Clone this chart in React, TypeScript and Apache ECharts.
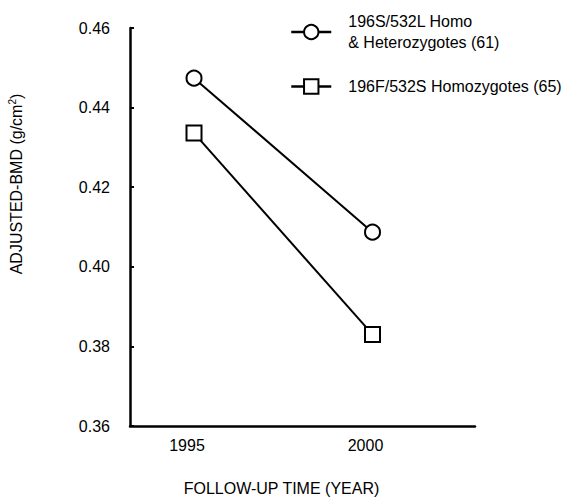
import React, { useEffect, useRef } from "react";
import * as echarts from "echarts";

const years = [1995, 2000];
const homoHetero = [0.4474, 0.4087];
const homozygotes = [0.4336, 0.383];
const seriesNames = ["196S/532L Homo\n& Heterozygotes (61)", "196F/532S Homozygotes (65)"];
const yMin = 0.36;
const yMax = 0.46;
const yStep = 0.02;
const xTickValues = [1995, 2000];
const xTitle = "FOLLOW-UP TIME (YEAR)";

const FONT = "Liberation Sans, Arial, Helvetica, sans-serif";

export default function App() {
  const ref = useRef<HTMLDivElement>(null);
  useEffect(() => {
    if (!ref.current) return;
    const chart = echarts.init(ref.current, null, { renderer: "svg" });
    const mk = (vals: number[]) => years.map((y, i) => [y, vals[i]]);
    const common = {
      type: "line",
      lineStyle: { color: "#000", width: 2 },
      itemStyle: { color: "#fff", borderColor: "#000", borderWidth: 2 },
      symbolSize: 15,
      z: 3,
    };
    chart.setOption({
      animation: false,
      backgroundColor: "#fff",
      grid: { left: 130, right: 89, top: 28, bottom: 73, containLabel: false },
      xAxis: {
        type: "value",
        min: 1993.207,
        max: 2002.871,
        axisLine: { show: true, lineStyle: { color: "#000", width: 2.5 } },
        axisTick: { show: false },
        splitLine: { show: false },
        axisLabel: {
          customValues: xTickValues,
          color: "#000",
          fontSize: 16,
          fontFamily: FONT,
          margin: 11,
          padding: [0, 14, 0, 0],
          formatter: (v: number) => String(v),
        },
      },
      yAxis: {
        type: "value",
        min: yMin,
        max: yMax,
        interval: yStep,
        axisLine: { show: true, lineStyle: { color: "#000", width: 2.5 } },
        axisTick: { show: true, inside: true, length: 4, lineStyle: { color: "#000", width: 2 } },
        splitLine: { show: false },
        axisLabel: {
          color: "#000",
          fontSize: 16,
          fontFamily: FONT,
          margin: 20,
          formatter: (v: number) => v.toFixed(2),
        },
      },
      legend: {
        orient: "vertical",
        left: 285,
        top: 6,
        itemWidth: 40,
        itemHeight: 18,
        itemGap: 23,
        lineStyle: { width: 2.5 },
        textStyle: {
          color: "#000",
          fontSize: 16,
          fontFamily: FONT,
          lineHeight: 21,
          padding: [0, 0, 0, 12],
        },
        data: seriesNames,
      },
      graphic: [
        {
          type: "text",
          x: 16.5,
          y: 184,
          rotation: Math.PI / 2,
          style: {
            text: "ADJUSTED-BMD (g/cm{sup|2})",
            fill: "#000",
            fontSize: 16,
            fontFamily: FONT,
            align: "center",
            verticalAlign: "middle",
            rich: {
              sup: { fontSize: 10, fontFamily: FONT, fill: "#000", padding: [0, 0, 8, 0] },
            },
          },
        },
        {
          type: "text",
          x: 281.5,
          y: 488,
          style: {
            text: xTitle,
            fill: "#000",
            fontSize: 16,
            fontFamily: FONT,
            align: "center",
            verticalAlign: "middle",
          },
        },
      ],
      series: [
        { ...common, name: seriesNames[0], symbol: "circle", data: mk(homoHetero) },
        { ...common, name: seriesNames[1], symbol: "rect", data: mk(homozygotes) },
      ],
    });
    return () => chart.dispose();
  }, []);
  return (
    <div
      ref={ref}
      style={{ position: "fixed", left: 0, top: 0, width: 564, height: 499, background: "#fff" }}
    />
  );
}
